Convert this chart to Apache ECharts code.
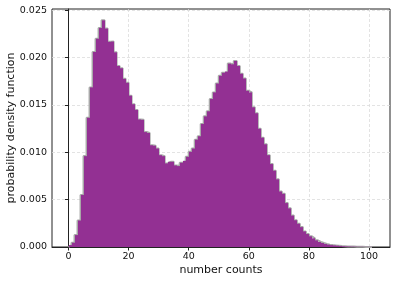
<!DOCTYPE html>
<html>
<head>
<meta charset="utf-8">
<script src="https://cdn.jsdelivr.net/npm/echarts@6/dist/echarts.min.js"></script>
<style>html,body{margin:0;padding:0;background:#fff}#c{width:396px;height:282px}</style>
</head>
<body>
<div id="c"></div>
<script>
// bin left edges (number counts), bin width 1
const binLeft = [0,1,2,3,4,5,6,7,8,9,10,11,12,13,14,15,16,17,18,19,20,21,22,23,24,25,26,27,28,29,30,31,32,33,34,35,36,37,38,39,40,41,42,43,44,45,46,47,48,49,50,51,52,53,54,55,56,57,58,59,60,61,62,63,64,65,66,67,68,69,70,71,72,73,74,75,76,77,78,79,80,81,82,83,84,85,86,87,88,89,90,91,92,93,94,95,96,97,98,99,100];
const binWidth = 1;
// probability density per bin
const density = [0.0002,0.00045,0.00126,0.0028,0.0055,0.0096,0.01365,0.01686,0.0206,0.0220,
0.02314,0.02394,0.02307,0.02167,0.0217,0.02056,0.01912,0.01888,0.01776,0.01734,
0.01598,0.01508,0.01448,0.01347,0.01343,0.01214,0.01204,0.01075,0.0107,0.0104,
0.0097,0.0096,0.00883,0.0090,0.0090,0.00862,0.00855,0.0089,0.0091,0.00953,
0.01005,0.0104,0.01134,0.0117,0.0130,0.0138,0.01434,0.01563,0.01633,0.01727,
0.01808,0.0184,0.01853,0.01937,0.0193,0.01965,0.01912,0.0183,0.0178,0.0165,
0.01633,0.01476,0.01413,0.01249,0.01155,0.01085,0.0097,0.00876,0.00806,0.00715,
0.00586,0.00562,0.00464,0.00408,0.00332,0.00283,0.00246,0.0021,0.00165,0.00137,
0.00113,0.00092,0.0007,0.00053,0.00042,0.00032,0.00025,0.0002,0.00017,0.00014,
0.0001,0.00008,0.00006,0.00005,0.00004,0.00003,0.00002,0.00002,0.00001,0.00001,0.00001];
const xTicks = [0,20,40,60,80,100];
const yTicks = [0,0.005,0.010,0.015,0.020,0.025];

const barData = binLeft.map((l,i)=>[l, l+binWidth, density[i]]);
const outline = [];
binLeft.forEach((l,i)=>{ outline.push([l, density[i]]); outline.push([l+binWidth, density[i]]); });
outline.unshift([binLeft[0],0]);
outline.push([binLeft[binLeft.length-1]+binWidth,0]);

const font = 'DejaVu Sans';
const chart = echarts.init(document.getElementById('c'), null, {renderer:'canvas'});
chart.setOption({
  animation:false,
  grid:{left:52,right:6,top:9,bottom:35,outerBoundsMode:'none',containLabel:false,
    show:true,borderColor:'#222',borderWidth:1,backgroundColor:'transparent'},
  xAxis:{type:'value',min:-5.5,max:107,
    name:'number counts',nameLocation:'middle',nameGap:18,nameMoveOverlap:false,
    nameTextStyle:{fontFamily:font,fontSize:11,color:'#111',verticalAlign:'top'},
    axisLine:{show:true,onZero:false,lineStyle:{color:'#222',width:1}},
    axisTick:{show:true,length:3.5,customValues:xTicks,lineStyle:{color:'#222'}},
    axisLabel:{customValues:xTicks,fontFamily:font,fontSize:9.5,color:'#111',margin:5},
    splitLine:{show:true,lineStyle:{color:'#dcdcdc',type:[3,2],width:0.8}}
  },
  yAxis:{type:'value',min:0,max:0.02514,
    name:'probability density function',nameLocation:'middle',nameGap:35,nameRotate:90,nameMoveOverlap:false,
    nameTextStyle:{fontFamily:font,fontSize:11,color:'#111'},
    axisLine:{show:true,lineStyle:{color:'#222',width:1}},
    axisTick:{show:true,length:3.5,customValues:yTicks,lineStyle:{color:'#222'}},
    axisLabel:{customValues:yTicks,fontFamily:font,fontSize:9.5,color:'#111',margin:5,
      formatter:v=>v.toFixed(3)},
    splitLine:{show:true,lineStyle:{color:'#dcdcdc',type:[3,2],width:0.8}}
  },
  series:[
    {type:'line',data:outline,symbol:'none',z:1,
      lineStyle:{color:'#a8a8a8',width:2},silent:true},
    {type:'custom',z:2,data:barData,
      renderItem:(params,api)=>{
        const p0 = api.coord([api.value(0), api.value(2)]);
        const p1 = api.coord([api.value(1), 0]);
        const x0 = Math.round(p0[0]), x1 = Math.round(p1[0]);
        return {type:'rect',shape:{x:x0,y:p0[1],width:x1-x0,height:p1[1]-p0[1]},
          style:{fill:'#933093'}};
      },
      encode:{x:[0,1],y:2}
    }
  ]
});
</script>
</body>
</html>
